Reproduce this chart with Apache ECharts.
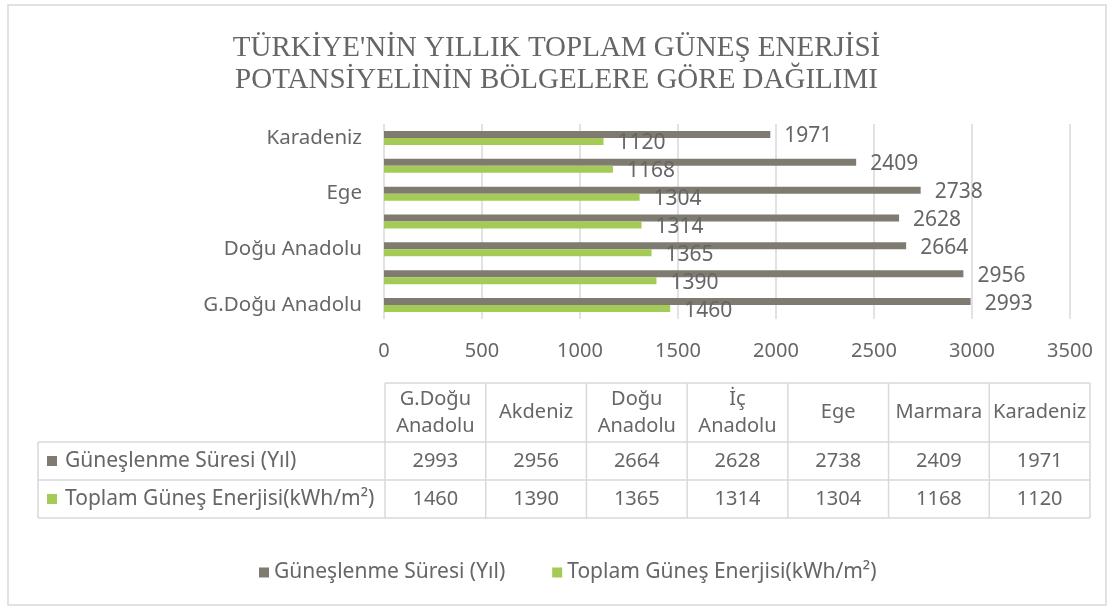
<!DOCTYPE html>
<html lang="tr">
<head>
    <meta charset="UTF-8">
    <title>Güneş Enerjisi Potansiyeli</title>
    <script src="https://cdn.jsdelivr.net/npm/echarts@6/dist/echarts.min.js"></script>
    <style>
        html, body {margin: 0; padding: 0; background: #fff;}
        #chart {width: 1113px; height: 608px;}
    </style>
</head>
<body>
<div id="chart"></div>

<script type="text/javascript">
    // bölgeler (aşağıdan yukarıya)
    var categories = ['G.Doğu Anadolu', 'Akdeniz', 'Doğu Anadolu', 'İç Anadolu', 'Ege', 'Marmara', 'Karadeniz'];
    var sunHours = [2993, 2956, 2664, 2628, 2738, 2409, 1971];
    var energy = [1460, 1390, 1365, 1314, 1304, 1168, 1120];
    var seriesNames = ['Güneşlenme Süresi (Yıl)', 'Toplam Güneş Enerjisi(kWh/m²)'];
    var xTicks = [0, 500, 1000, 1500, 2000, 2500, 3000, 3500];

    var colors = ['#7f7b70', '#a3cb55'];
    var textColor = '#666666';
    var lineColor = '#d9d9d9';
    var font = '"Noto Sans", sans-serif';

    var dom = document.getElementById('chart');
    var myChart = echarts.init(dom);

    // veri tablosu (grafiğin altında)
    var tLeft = 38, cStart = 385, cEnd = 1090;
    var colW = (cEnd - cStart) / categories.length;
    var rows = [383, 442, 480, 518];
    var tableEls = [];

    function hLine(x1, x2, y) {
        tableEls.push({type: 'line', silent: true,
            shape: {x1: x1, y1: y, x2: x2, y2: y},
            style: {stroke: lineColor, lineWidth: 1.5}});
    }
    function vLine(x, y1, y2) {
        tableEls.push({type: 'line', silent: true,
            shape: {x1: x, y1: y1, x2: x, y2: y2},
            style: {stroke: lineColor, lineWidth: 1.5}});
    }
    function cellText(str, x, y) {
        tableEls.push({type: 'text', silent: true, x: x, y: y,
            style: {text: str, fill: textColor, font: '20px ' + font,
                align: 'center', verticalAlign: 'middle', lineHeight: 27}});
    }

    hLine(cStart, cEnd, rows[0]);
    for (var r = 1; r < rows.length; r++) hLine(tLeft, cEnd, rows[r]);
    vLine(tLeft, rows[1], rows[3]);
    for (var c = 0; c <= categories.length; c++) vLine(cStart + c * colW, rows[0], rows[3]);

    var tableRows = [sunHours, energy];
    categories.forEach(function (name, i) {
        var cx = cStart + colW * (i + 0.5);
        cellText(name.replace(' ', '\n'), cx, (rows[0] + rows[1]) / 2);
        tableRows.forEach(function (vals, k) {
            cellText(String(vals[i]), cx, (rows[k + 1] + rows[k + 2]) / 2);
        });
    });
    seriesNames.forEach(function (name, k) {
        var cy = (rows[k + 1] + rows[k + 2]) / 2;
        tableEls.push({type: 'rect', silent: true,
            shape: {x: 47, y: cy - 5, width: 10, height: 10},
            style: {fill: colors[k]}});
        tableEls.push({type: 'text', silent: true, x: 65, y: cy,
            style: {text: name, fill: textColor, font: '21px ' + font, verticalAlign: 'middle'}});
    });

    function barLabel() {
        return {
            show: true,
            position: 'right',
            distance: 14,
            offset: [0, 2],
            color: textColor,
            fontSize: 21,
            fontFamily: font
        };
    }

    var option = {
        textStyle: {fontFamily: font},
        title: {
            text: "TÜRKİYE'NİN YILLIK TOPLAM GÜNEŞ ENERJİSİ\nPOTANSİYELİNİN BÖLGELERE GÖRE DAĞILIMI",
            left: 'center',
            top: 27,
            textStyle: {
                fontFamily: '"Liberation Serif", serif',
                fontWeight: 'normal',
                fontSize: 29,
                lineHeight: 32,
                color: textColor
            }
        },
        legend: {
            left: 254,
            top: 557,
            itemWidth: 10,
            itemHeight: 10,
            itemGap: 47,
            icon: 'rect',
            textStyle: {color: textColor, fontSize: 21, fontFamily: font},
            data: seriesNames
        },
        grid: {left: 384, right: 43, top: 124, bottom: 289, containLabel: false},
        xAxis: {
            type: 'value',
            min: xTicks[0],
            max: xTicks[xTicks.length - 1],
            interval: 500,
            axisLine: {show: false},
            axisTick: {show: false},
            axisLabel: {color: textColor, fontSize: 20, margin: 22, formatter: function (v) { return String(v); }},
            splitLine: {show: true, lineStyle: {color: lineColor, width: 1.5}}
        },
        yAxis: {
            type: 'category',
            data: categories,
            axisLine: {show: false},
            axisTick: {show: false},
            axisLabel: {color: textColor, fontSize: 20.5, interval: 1, margin: 22}
        },
        graphic: [
            {type: 'rect', silent: true,
                shape: {x: 8, y: 5, width: 1098, height: 600},
                style: {fill: 'none', stroke: lineColor, lineWidth: 1.5}},
            {type: 'group', silent: true, children: tableEls}
        ],
        series: [
            {
                name: seriesNames[0],
                type: 'bar',
                barWidth: 7,
                barGap: '0%',
                itemStyle: {color: colors[0]},
                label: barLabel(),
                data: sunHours
            },
            {
                name: seriesNames[1],
                type: 'bar',
                barWidth: 7,
                barGap: '0%',
                itemStyle: {color: colors[1]},
                label: barLabel(),
                data: energy
            }
        ]
    };

    myChart.setOption(option);
</script>
</body>
</html>
